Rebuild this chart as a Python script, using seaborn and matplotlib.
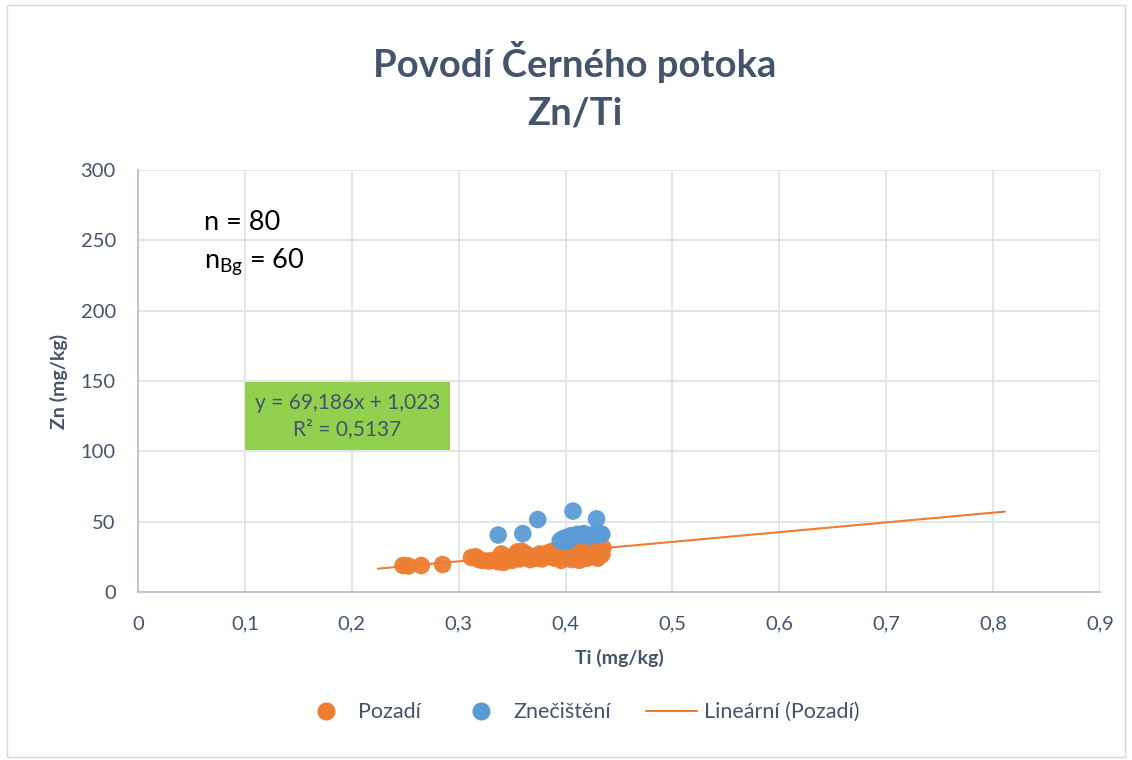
import numpy as np
import pandas as pd
import matplotlib
matplotlib.use("Agg")
import matplotlib.pyplot as plt
from matplotlib.lines import Line2D
from matplotlib.patches import Rectangle
import seaborn as sns

# Data
bg_ti = [0.248, 0.253, 0.265, 0.285, 0.312, 0.316, 0.319, 0.322, 0.328, 0.333,
         0.337, 0.340, 0.342, 0.345, 0.348, 0.350, 0.352, 0.355, 0.357, 0.359,
         0.361, 0.363, 0.365, 0.367, 0.370, 0.373, 0.376, 0.378, 0.381, 0.384,
         0.386, 0.388, 0.390, 0.392, 0.394, 0.396, 0.398, 0.400, 0.402, 0.404,
         0.406, 0.408, 0.409, 0.411, 0.413, 0.415, 0.417, 0.419, 0.420, 0.422,
         0.424, 0.426, 0.427, 0.429, 0.430, 0.431, 0.432, 0.433, 0.435, 0.434]
bg_zn = [18.8, 18.5, 18.8, 19.5, 24.5, 25.0, 23.0, 22.5, 22.0, 22.5,
         21.5, 27.0, 21.0, 23.0, 24.0, 22.5, 26.0, 28.5, 23.5, 29.0,
         24.5, 27.0, 26.0, 23.0, 25.0, 24.0, 27.0, 23.5, 26.5, 28.0,
         25.0, 29.0, 24.0, 27.5, 30.0, 22.5, 26.0, 28.5, 24.5, 31.0,
         23.0, 27.0, 29.5, 25.5, 22.5, 28.0, 30.5, 26.0, 24.0, 29.0,
         27.5, 31.0, 25.0, 28.5, 24.0, 30.0, 27.0, 29.5, 31.5, 26.5]
pol_ti = [0.337, 0.360, 0.374, 0.407, 0.429, 0.395, 0.398, 0.402, 0.405, 0.408,
          0.411, 0.414, 0.417, 0.420, 0.423, 0.426, 0.429, 0.432, 0.434, 0.401]
pol_zn = [40.5, 41.5, 51.5, 57.5, 52.0, 36.5, 38.0, 39.0, 40.0, 39.5,
          41.0, 40.5, 41.5, 40.0, 39.5, 41.0, 40.5, 41.5, 41.0, 35.5]
trend_x = [0.2245, 0.811]
slope, intercept = 69.186, 1.023

df = pd.DataFrame({
    "Ti": bg_ti + pol_ti,
    "Zn": bg_zn + pol_zn,
    "group": ["Pozadí"] * len(bg_ti) + ["Znečištění"] * len(pol_ti),
})

orange = "#ED7D31"
blue = "#5B9BD5"
grey = "#44546A"
axis_col = "#B4BDD0"

sns.set_style("white")
plt.rcParams["font.family"] = ["Lato", "DejaVu Sans"]

fig = plt.figure(figsize=(11.32, 7.6), dpi=100)
ax = fig.add_axes([0.1219, 0.2211, 0.8498, 0.5552])

sns.scatterplot(data=df, x="Ti", y="Zn", hue="group",
                palette={"Pozadí": orange, "Znečištění": blue},
                s=160, edgecolor="none", alpha=0.95, legend=False, ax=ax, zorder=3)

tx = np.array(trend_x)
ax.plot(tx, slope * tx + intercept, color=orange, lw=1.5, zorder=4)

ax.set_xlim(0, 0.9)
ax.set_ylim(0, 300)
ax.set_xticks(np.arange(0, 0.91, 0.1))
ax.set_xticklabels(["0", "0,1", "0,2", "0,3", "0,4", "0,5", "0,6", "0,7", "0,8", "0,9"])
ax.set_yticks(np.arange(0, 301, 50))
ax.grid(True, color="#DDE1E8", lw=1.2)
ax.set_axisbelow(True)
for side in ["top", "right"]:
    ax.spines[side].set_visible(False)
for side in ["bottom", "left"]:
    ax.spines[side].set_color(axis_col)
    ax.spines[side].set_linewidth(1.2)
ax.tick_params(length=0, labelsize=14.5, labelcolor=grey)
ax.tick_params(axis="y", pad=16)
ax.tick_params(axis="x", pad=17)

ax.set_xlabel("Ti (mg/kg)", fontsize=14, fontweight="bold", color=grey, labelpad=12)
ax.set_ylabel("Zn (mg/kg)", fontsize=14, fontweight="bold", color=grey, labelpad=9)

fig.text(0.508, 0.918, "Povodí Černého potoka", ha="center", va="center",
         fontsize=27.5, fontweight="bold", color=grey)
fig.text(0.508, 0.851, "Zn/Ti", ha="center", va="center",
         fontsize=27.5, fontweight="bold", color=grey)

ax.text(0.062, 263, "n = 80", fontsize=19.5, color="black", va="center")
ax.text(0.062, 235, r"n$_{\mathregular{Bg}}$ = 60", fontsize=19.5, color="black", va="center")

ax.add_patch(Rectangle((0.1, 101), 0.192, 48, facecolor="#92D050",
                       edgecolor="none", zorder=5))
ax.text(0.196, 125, "y = 69,186x + 1,023\nR² = 0,5137", ha="center", va="center",
        fontsize=15, color=grey, linespacing=1.35, zorder=6)

handles = [
    Line2D([], [], marker="o", ls="none", color=orange, markersize=12),
    Line2D([], [], marker="o", ls="none", color=blue, markersize=12),
    Line2D([], [], color=orange, lw=1.5),
]
fig.legend(handles, ["Pozadí", "Znečištění", "Lineární (Pozadí)"],
           loc="center", bbox_to_anchor=(0.512, 0.063), ncol=3, frameon=False,
           fontsize=15.5, labelcolor=grey, columnspacing=1.6, handlelength=2.4,
           handletextpad=0.3)

fig.patches.append(Rectangle((0.006, 0.004), 0.988, 0.99, transform=fig.transFigure,
                             fill=False, edgecolor="#D9D9D9", lw=1))

fig.savefig("out.png", dpi=100)
